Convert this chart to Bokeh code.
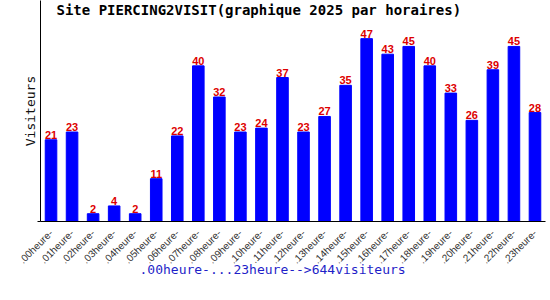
import math
from bokeh.plotting import figure
from bokeh.models import Range1d, FactorRange, FixedTicker, Label, ColumnDataSource, Title
from bokeh.core.properties import value
from bokeh.embed import file_html
from bokeh.resources import INLINE

hours = [".00heure-", ".01heure-", ".02heure-", ".03heure-", ".04heure-", ".05heure-",
         ".06heure-", ".07heure-", ".08heure-", ".09heure-", ".10heure-", ".11heure-",
         ".12heure-", ".13heure-", ".14heure-", ".15heure-", ".16heure-", ".17heure-",
         ".18heure-", ".19heure-", ".20heure-", ".21heure-", ".22heure-", ".23heure-"]
visits = [21, 23, 2, 4, 2, 11, 22, 40, 32, 23, 24, 37, 23, 27, 35, 47, 43, 45, 40, 33, 26, 39, 45, 28]
title_text = "Site PIERCING2VISIT(graphique 2025 par horaires)"
y_label = "Visiteurs"
footer = ".00heure-...23heure-->644visiteurs"

src = ColumnDataSource(dict(x=hours, top=visits, lab=[str(v) for v in visits]))

p = figure(width=550, height=300, output_backend="svg", toolbar_location=None,
           x_range=FactorRange(*hours, range_padding=0), y_range=Range1d(0, 56.8),
           min_border_left=40, min_border_right=5, min_border_top=0, min_border_bottom=79)
p.outline_line_color = None
p.xgrid.grid_line_color = None
p.ygrid.grid_line_color = None
p.background_fill_color = "white"
p.border_fill_color = "white"

p.vbar(x="x", top="top", width=0.55, color="#0000ff", source=src)
p.text(x="x", y="top", text="lab", source=src, text_align="center", text_baseline="bottom",
       y_offset=-1, text_color="#dd0000", text_font=value("Liberation Sans"),
       text_font_size="11px", text_font_style="bold")

# y axis
p.yaxis.ticker = FixedTicker(ticks=[0])
p.yaxis.major_tick_out = 3
p.yaxis.major_tick_in = 0
p.yaxis.minor_tick_line_color = None
p.yaxis.major_label_text_color = None
p.yaxis.major_label_text_font_size = "1px"
p.yaxis.major_label_standoff = 0
p.yaxis.axis_line_color = "black"
p.yaxis.axis_label = y_label
p.yaxis.axis_label_text_font = "DejaVu Sans Mono"
p.yaxis.axis_label_text_font_size = "13px"
p.yaxis.axis_label_text_font_style = "normal"
p.yaxis.axis_label_text_color = "#111111"
p.yaxis.axis_label_standoff = 0

# x axis
p.xaxis.major_tick_line_color = None
p.xaxis.minor_tick_line_color = None
p.xaxis.major_label_orientation = math.pi / 4
p.xaxis.major_label_text_font = "Liberation Sans"
p.xaxis.major_label_text_font_size = "10px"
p.xaxis.major_label_text_color = "#333333"
p.xaxis.major_label_standoff = 4
p.xaxis.axis_line_color = "black"

# footer below the axis
p.add_layout(Title(text=footer, align="left", offset=99, vertical_align="top",
                   text_font="DejaVu Sans Mono", text_font_size="13px",
                   text_font_style="normal", text_color="#1f1fc8", standoff=-22), "below")

# title inside the top of the frame
p.add_layout(Label(x=16, y=221 - 9, x_units="screen", y_units="screen", text=title_text,
                   text_font="DejaVu Sans Mono", text_font_size="14px", text_font_style="bold",
                   text_color="black", text_align="left", text_baseline="middle"))

open("out.html", "w").write(file_html(p, INLINE))
